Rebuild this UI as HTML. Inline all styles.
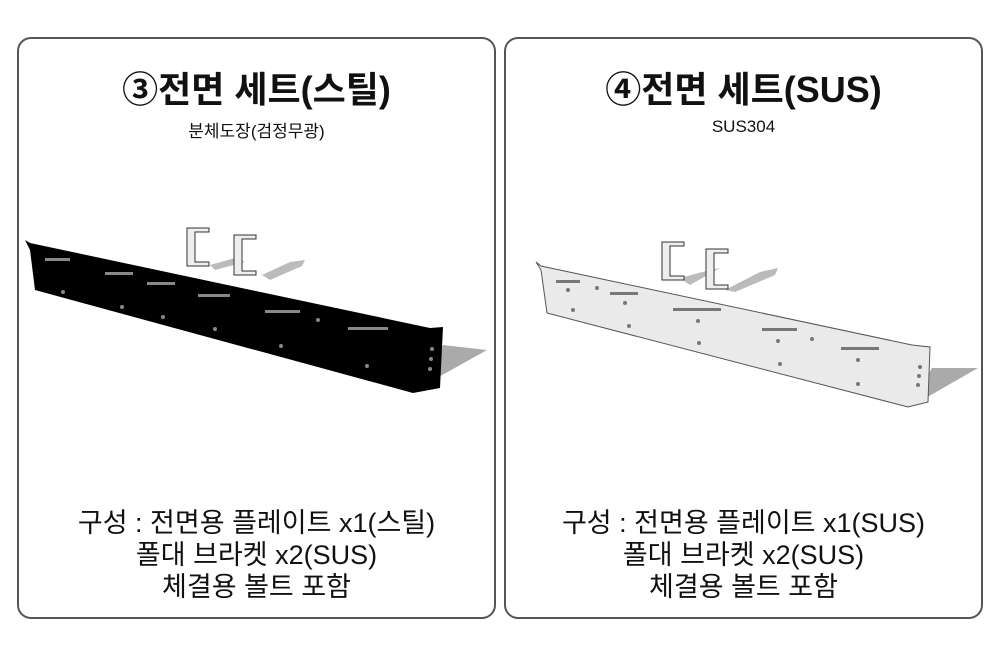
<!DOCTYPE html>
<html><head><meta charset="utf-8"><style>
body{margin:0;background:#fff;width:1000px;height:667px;overflow:hidden;font-family:"Liberation Sans","Noto Sans CJK KR",sans-serif}
.p{position:absolute;top:37px;height:582px;border:2px solid #555;border-radius:14px;box-sizing:border-box;background:#fff}
.t{position:absolute;width:100%;text-align:center;color:#111}
.h{top:22px;font-size:36px;font-weight:bold}
.s{top:78px;font-size:17px}
.b{top:468px;font-size:27px;line-height:32px}
svg{position:absolute;left:0;top:0}
</style></head><body>
<div class="p" style="left:17px;width:479px">
<div class="t h">③전면 세트(스틸)</div>
<div class="t s">분체도장(검정무광)</div>
<div class="t b">구성 : 전면용 플레이트 x1(스틸)<br>폴대 브라켓 x2(SUS)<br>체결용 볼트 포함</div>
</div>
<div class="p" style="left:504px;width:479px">
<div class="t h">④전면 세트(SUS)</div>
<div class="t s">SUS304</div>
<div class="t b">구성 : 전면용 플레이트 x1(SUS)<br>폴대 브라켓 x2(SUS)<br>체결용 볼트 포함</div>
</div>
<svg width="1000" height="667">
<polygon points="443,345 487,350 410,393" fill="#aaa"/>
<polygon points="210,265 235,258 245,262 215,270" fill="#bbb"/>
<polygon points="262,275 290,262 305,260 302,266 270,280" fill="#bbb"/>
<polygon points="25,240 30,243 430,328 443,327 440,388 413,393 35,290 30,250" fill="#000"/>
<g fill="#888"><rect x="45" y="258" width="25" height="3"/><rect x="105" y="272" width="28" height="3"/><rect x="147" y="282" width="28" height="3"/><rect x="198" y="294" width="32" height="3"/><rect x="265" y="310" width="35" height="3"/><rect x="348" y="327" width="40" height="3"/>
<circle cx="63" cy="292" r="2"/><circle cx="122" cy="307" r="2"/><circle cx="163" cy="317" r="2"/><circle cx="215" cy="329" r="2"/><circle cx="281" cy="346" r="2"/><circle cx="367" cy="366" r="2"/><circle cx="318" cy="320" r="2"/><circle cx="432" cy="349" r="2"/><circle cx="431" cy="359" r="2"/><circle cx="430" cy="369" r="2"/></g>
<g fill="#eee" stroke="#333" stroke-width="1"><path d="M187,228 h22 v4 h-14 v30 h14 v4 h-22z"/><path d="M234,235 h22 v4 h-14 v32 h14 v4 h-22z"/></g>
<polygon points="932,368 978,368 910,407" fill="#aaa"/>
<polygon points="680,278 710,270 720,268 690,285" fill="#bbb"/>
<polygon points="725,290 760,272 778,268 775,275 735,292" fill="#bbb"/>
<polygon points="536,262 541,266 912,345 930,347 928,402 908,407 547,313 541,270" fill="#eaeaea" stroke="#555"/>
<g fill="#777"><rect x="556" y="280" width="24" height="3"/><rect x="610" y="292" width="28" height="3"/><rect x="673" y="308" width="48" height="3"/><rect x="762" y="328" width="35" height="3"/><rect x="841" y="347" width="38" height="3"/>
<circle cx="568" cy="290" r="2"/><circle cx="597" cy="288" r="2"/><circle cx="625" cy="303" r="2"/><circle cx="698" cy="321" r="2"/><circle cx="778" cy="341" r="2"/><circle cx="812" cy="339" r="2"/><circle cx="858" cy="360" r="2"/><circle cx="573" cy="310" r="2"/><circle cx="629" cy="326" r="2"/><circle cx="699" cy="343" r="2"/><circle cx="780" cy="364" r="2"/><circle cx="858" cy="384" r="2"/><circle cx="920" cy="367" r="2"/><circle cx="919" cy="376" r="2"/><circle cx="918" cy="385" r="2"/></g>
<g fill="#eee" stroke="#333" stroke-width="1"><path d="M662,242 h22 v4 h-14 v30 h14 v4 h-22z"/><path d="M706,249 h22 v4 h-14 v32 h14 v4 h-22z"/></g>
</svg>
</body></html>
